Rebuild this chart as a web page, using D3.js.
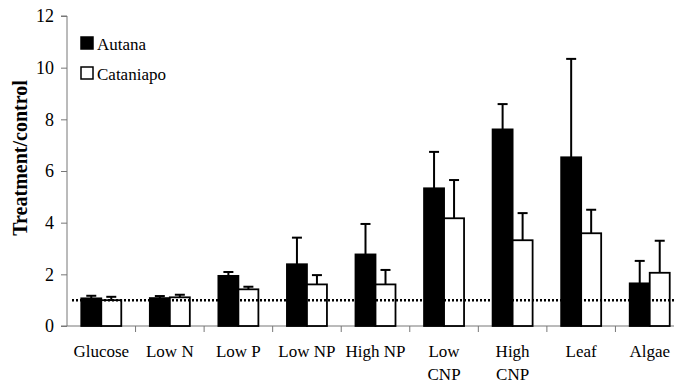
<!DOCTYPE html>
<html><head><meta charset="utf-8">
<script src="https://cdn.jsdelivr.net/npm/d3@7"></script>
<style>body{margin:0;background:#fff}svg{display:block}
svg text{font-family:"Liberation Serif","Times New Roman",serif}</style>
</head><body>
<script>
const categories = [["Glucose"],["Low N"],["Low P"],["Low NP"],["High NP"],["Low","CNP"],["High","CNP"],["Leaf"],["Algae"]];
const seriesNames = ["Autana","Cataniapo"];
const autana      = [1.07, 1.08, 1.94, 2.39, 2.77, 5.33, 7.61, 6.53, 1.65];
const autanaErr   = [1.17, 1.16, 2.09, 3.42, 3.95, 6.74, 8.59, 10.34, 2.52];
const cataniapo   = [1.00, 1.11, 1.42, 1.61, 1.61, 4.17, 3.32, 3.59, 2.06];
const cataniapoErr= [1.13, 1.21, 1.52, 1.97, 2.17, 5.65, 4.37, 4.50, 3.30];
const yTicks = [0,2,4,6,8,10,12];
const refLine = 1;

const W=674,H=383;
const svg=d3.select("body").append("svg").attr("width",W).attr("height",H);
const x0=67, x1=684, yb=326, yt=16;
const x=d3.scaleBand().domain(d3.range(categories.length)).range([x0,x1]).paddingInner(0).paddingOuter(0);
const y=d3.scaleLinear().domain([0,12]).range([yb,yt]);
const barW=20;

// axes
const yAxis=d3.axisLeft(y).tickValues(yTicks).tickSize(6).tickPadding(7);
const gy=svg.append("g").attr("transform",`translate(${x0},0)`).call(yAxis);
gy.attr("font-family",null).attr("font-size",null);
gy.selectAll("line,path").attr("stroke","#777").attr("stroke-width",1);
gy.select(".domain").attr("d",`M-6,${yt}H0V${yb}H-6`);
gy.selectAll("text").style("font-size","18px").attr("fill","#000");

const xb=d3.scaleLinear().domain([0,categories.length]).range([x0,x1]);
const gx=svg.append("g").attr("transform",`translate(0,${yb})`);
gx.append("line").attr("x1",x0).attr("x2",x1).attr("stroke","#777");
gx.selectAll(".tk").data(d3.range(1,categories.length)).join("line")
  .attr("x1",d=>xb(d)).attr("x2",d=>xb(d)).attr("y1",0).attr("y2",6).attr("stroke","#777");

// bars
const series=[{v:autana,e:autanaErr,fill:"#000",off:-barW},{v:cataniapo,e:cataniapoErr,fill:"#fff",off:0}];
series.forEach(s=>{
  const g=svg.append("g");
  g.selectAll("line.err").data(s.v).join("line")
    .attr("x1",(d,i)=>x(i)+x.bandwidth()/2+s.off+barW/2)
    .attr("x2",(d,i)=>x(i)+x.bandwidth()/2+s.off+barW/2)
    .attr("y1",(d)=>y(d)).attr("y2",(d,i)=>y(s.e[i])).attr("stroke","#000").attr("stroke-width",2);
  g.selectAll("line.cap").data(s.e).join("line")
    .attr("x1",(d,i)=>x(i)+x.bandwidth()/2+s.off+barW/2-5)
    .attr("x2",(d,i)=>x(i)+x.bandwidth()/2+s.off+barW/2+5)
    .attr("y1",d=>y(d)).attr("y2",d=>y(d)).attr("stroke","#000").attr("stroke-width",2);
  g.selectAll("rect").data(s.v).join("rect")
    .attr("x",(d,i)=>x(i)+x.bandwidth()/2+s.off)
    .attr("y",d=>y(d)).attr("width",barW).attr("height",d=>yb-y(d))
    .attr("fill",s.fill).attr("stroke","#000").attr("stroke-width",1.8);
});

// dotted reference line
svg.append("line").attr("x1",72).attr("x2",W).attr("y1",y(refLine)).attr("y2",y(refLine))
  .attr("stroke","#000").attr("stroke-width",2.5).attr("stroke-dasharray","2,2");

// category labels
const cl=svg.append("g");
categories.forEach((c,i)=>{
  const t=cl.append("text").attr("x",x(i)+x.bandwidth()/2).attr("y",357)
    .attr("text-anchor","middle").style("font-size","17px");
  c.forEach((l,j)=>t.append("tspan").attr("x",x(i)+x.bandwidth()/2).attr("dy",j?23:0).text(l));
});

// y title
svg.append("text").attr("transform",`translate(27,158) rotate(-90)`)
  .attr("text-anchor","middle").style("font-weight","bold").style("font-size","20px")
  .text("Treatment/control");

// legend
const lg=svg.append("g");
seriesNames.forEach((n,i)=>{
  lg.append("rect").attr("x",81).attr("y",37+i*30).attr("width",12).attr("height",12)
    .attr("fill",i?"#fff":"#000").attr("stroke","#000").attr("stroke-width",1.5);
  lg.append("text").attr("x",97).attr("y",50+i*30).style("font-size","17px").text(n);
});
</script>
</body></html>
